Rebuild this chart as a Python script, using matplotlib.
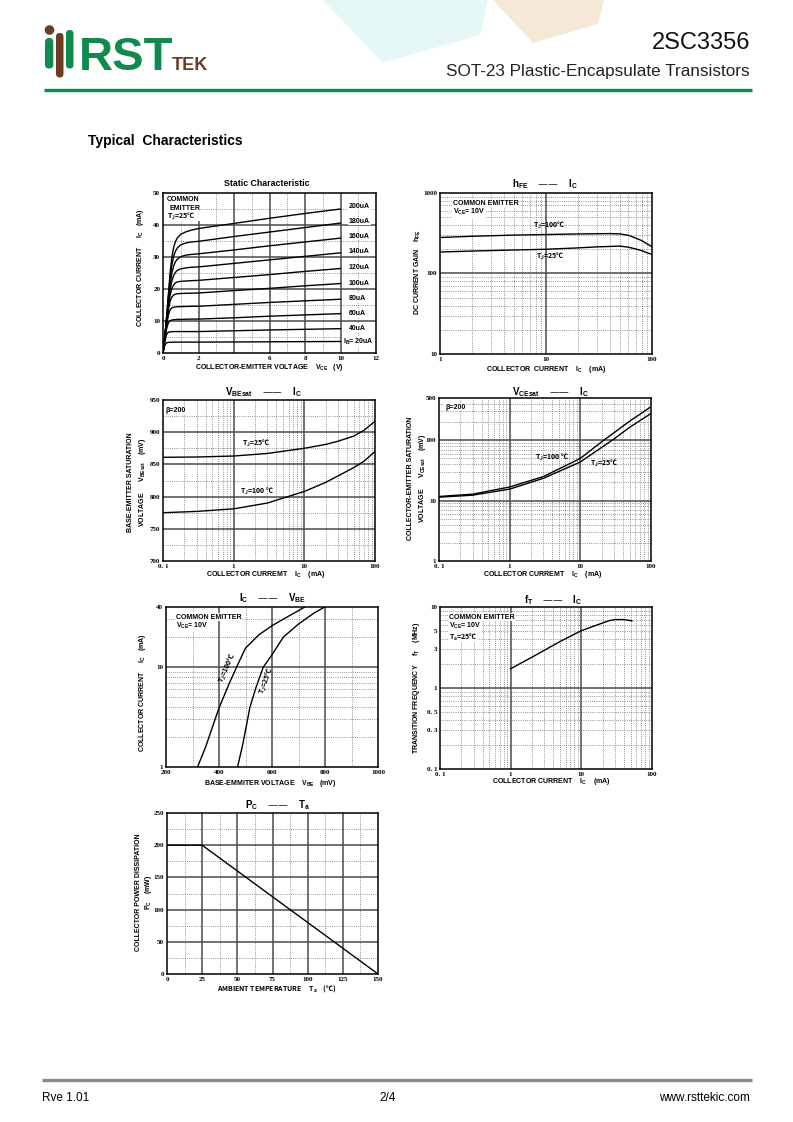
import matplotlib
matplotlib.use("Agg")
import matplotlib.pyplot as plt
from matplotlib.patches import FancyBboxPatch, Circle, Polygon, Rectangle

plt.rcParams['mathtext.default'] = 'regular'

# ---------------- data ----------------
# Static characteristic (Ic vs Vce for several Ib)
vce_pts = [0, 0.1, 0.2, 0.3, 0.4, 0.5, 0.6, 0.7, 0.8, 1.0, 1.3, 1.6, 2.0, 4.0, 6.0, 8.0, 10.0]
ic_200ua = [0, 5, 11, 18, 25, 30, 33, 34.8, 35.9, 37.1, 37.9, 38.4, 38.9, 40.5, 42.1, 43.6, 45.0]
ic_180ua = [0, 5, 11, 17.5, 23.5, 27.5, 30.2, 31.8, 32.8, 33.8, 34.4, 34.7, 34.9, 36.4, 37.8, 39.2, 40.6]
ic_160ua = [0, 5, 10.5, 16.5, 21.5, 25, 27.2, 28.5, 29.3, 30.1, 30.6, 30.8, 31.0, 32.2, 33.5, 34.7, 35.9]
ic_140ua = [0, 4.8, 10, 15.5, 19.8, 22.5, 24.2, 25.2, 25.8, 26.3, 26.6, 26.8, 26.9, 28.0, 29.1, 30.2, 31.3]
ic_120ua = [0, 4.6, 9.6, 14.5, 18, 20.2, 21.3, 21.9, 22.2, 22.4, 22.5, 22.6, 22.7, 23.6, 24.5, 25.5, 26.4]
ic_100ua = [0, 4.4, 9, 13.3, 16.2, 17.5, 18.1, 18.4, 18.5, 18.6, 18.65, 18.7, 18.75, 19.5, 20.2, 21.0, 21.7]
ic_80ua = [0, 4.2, 8.5, 11.8, 13.5, 14.1, 14.3, 14.4, 14.45, 14.5, 14.55, 14.6, 14.6, 15.2, 15.8, 16.3, 16.8]
ic_60ua = [0, 4, 7.5, 9.4, 10.1, 10.3, 10.4, 10.45, 10.5, 10.5, 10.55, 10.6, 10.6, 11.0, 11.5, 11.9, 12.3]
ic_40ua = [0, 3.6, 5.8, 6.5, 6.6, 6.65, 6.7, 6.7, 6.7, 6.7, 6.7, 6.7, 6.7, 6.95, 7.2, 7.4, 7.6]
ic_20ua = [0, 2.4, 3.2, 3.3, 3.35, 3.35, 3.4, 3.4, 3.4, 3.4, 3.4, 3.4, 3.4, 3.45, 3.5, 3.55, 3.6]
ib_labels = ["200uA", "180uA", "160uA", "140uA", "120uA", "100uA", "80uA", "60uA", "40uA", "I$_B$= 20uA"]

# hFE vs Ic
hfe_ic_100 = [1, 2, 5, 10, 20, 40, 50, 60, 70, 80, 100]
hfe_100 = [280, 290, 300, 305, 310, 313, 310, 298, 276, 256, 215]
hfe_ic_25 = [1, 2, 5, 10, 20, 30, 50, 60, 70, 80, 100]
hfe_25 = [185, 190, 196, 200, 208, 214, 219, 212, 202, 192, 172]

# VBEsat vs Ic
vbe_ic_25 = [0.1, 0.3, 1, 3, 10, 20, 30, 50, 70, 100]
vbe_25 = [861, 861.5, 863, 867, 875, 881, 886, 894, 903, 917]
vbe_ic_100 = [0.1, 0.3, 1, 3, 10, 20, 50, 70, 100]
vbe_100 = [775, 777, 781, 790, 808, 822, 845, 855, 870]

# VCEsat vs Ic
vce_ic = [0.1, 0.3, 1, 3, 10, 20, 30, 50, 100]
vce_100 = [11.7, 12.8, 16.8, 25, 50, 94, 133, 207, 358]
vce_25 = [11.4, 12.3, 15.5, 23.4, 43.6, 76, 105, 164, 277]

# Ic vs VBE
ivbe_v_100 = [319, 350, 400, 440, 470, 500, 550, 600, 650, 724]
ivbe_ic_100 = [1, 1.6, 3.9, 7, 10.5, 15.5, 21, 26, 31, 40]
ivbe_v_25 = [470, 490, 517, 540, 567, 600, 643, 700, 760, 799]
ivbe_ic_25 = [1, 1.7, 4, 6.3, 10, 13.3, 20, 27, 35, 40]

# fT vs Ic
ft_ic = [1, 2, 5, 10, 15, 20, 25, 30, 40, 52]
ft_mhz = [1.73, 2.4, 3.75, 5.1, 5.8, 6.35, 6.8, 7.0, 7.0, 6.75]

# Pc vs Ta
pc_ta = [0, 25, 150]
pc_mw = [200, 200, 0]

# ---------------- figure ----------------
W, H = 793, 1122
fig = plt.figure(figsize=(W / 100, H / 100), dpi=100)

SANS = 'Liberation Sans'
SERIF = 'Liberation Serif'
CJK = 'Noto Sans CJK SC'
MAJ = '#4a4a4a'
MIN = '#707070'
GREEN = '#108a4e'
BROWN = '#6b3d24'


def mk_ax(x0, y0, x1, y1):
    ax = fig.add_axes([x0 / W, 1 - y1 / H, (x1 - x0) / W, (y1 - y0) / H])
    for s in ax.spines.values():
        s.set_linewidth(1.1)
        s.set_color('black')
        s.set_zorder(5)
    ax.tick_params(which='both', length=0, pad=2)
    return ax


def style_ticks(ax, xt, xl, yt, yl):
    ax.set_xticks(xt)
    ax.set_xticklabels(xl, fontfamily=SERIF, fontweight='bold', fontsize=5)
    ax.set_yticks(yt)
    ax.set_yticklabels(yl, fontfamily=SERIF, fontweight='bold', fontsize=5)
    ax.minorticks_off()


def vgrid(ax, major, minor):
    for v in minor:
        ax.axvline(v, color=MIN, lw=0.6, ls=(0, (1, 1.6)), zorder=1)
    for v in major:
        ax.axvline(v, color=MAJ, lw=1.1, zorder=2)


def hgrid(ax, major, minor):
    for v in minor:
        ax.axhline(v, color=MIN, lw=0.6, ls=(0, (1, 1.6)), zorder=1)
    for v in major:
        ax.axhline(v, color=MAJ, lw=1.1, zorder=2)


def logminor(lo, hi):
    out = []
    e = 1e-3
    while e < hi * 10:
        for m in range(2, 10):
            v = m * e
            if lo < v < hi:
                out.append(v)
        e *= 10
    return out


LW = 1.0

# ---- Static characteristic ----
ax1 = mk_ax(163, 193, 376, 353)
ax1.set_xlim(0, 12); ax1.set_ylim(0, 50)
vgrid(ax1, [2, 4, 6, 8, 10], [1, 3, 5, 7, 9, 11])
hgrid(ax1, [10, 20, 30, 40], [5, 15, 25, 35, 45])
for curve in [ic_200ua, ic_180ua, ic_160ua, ic_140ua, ic_120ua, ic_100ua,
              ic_80ua, ic_60ua, ic_40ua, ic_20ua]:
    ax1.plot(vce_pts, curve, color='black', lw=LW, zorder=3)
style_ticks(ax1, [0, 2, 4, 6, 8, 10, 12], ['0', '2', '', '6', '8', '10', '12'],
            [0, 10, 20, 30, 40, 50], ['0', '10', '20', '30', '40', '50'])

# ---- hFE ----
ax2 = mk_ax(440, 193, 652, 354)
ax2.set_xscale('log'); ax2.set_yscale('log')
ax2.set_xlim(1, 100); ax2.set_ylim(10, 1000)
vgrid(ax2, [10], logminor(1, 100))
hgrid(ax2, [100], logminor(10, 1000))
ax2.plot(hfe_ic_100, hfe_100, color='black', lw=LW, zorder=3)
ax2.plot(hfe_ic_25, hfe_25, color='black', lw=LW, zorder=3)
style_ticks(ax2, [1, 10, 100], ['1', '10', '100'], [10, 100, 1000], ['10', '100', '1000'])

# ---- VBEsat ----
ax3 = mk_ax(163, 400, 375, 561)
ax3.set_xscale('log')
ax3.set_xlim(0.1, 100); ax3.set_ylim(700, 950)
vgrid(ax3, [1, 10], logminor(0.1, 100))
hgrid(ax3, [750, 800, 850, 900], [725, 775, 825, 875, 925])
ax3.plot(vbe_ic_25, vbe_25, color='black', lw=LW, zorder=3)
ax3.plot(vbe_ic_100, vbe_100, color='black', lw=LW, zorder=3)
style_ticks(ax3, [0.1, 1, 10, 100], ['0. 1', '1', '10', '100'],
            [700, 750, 800, 850, 900, 950], ['700', '750', '800', '850', '900', '950'])

# ---- VCEsat ----
ax4 = mk_ax(439, 398, 651, 561)
ax4.set_xscale('log'); ax4.set_yscale('log')
ax4.set_xlim(0.1, 100); ax4.set_ylim(1, 500)
vgrid(ax4, [1, 10], logminor(0.1, 100))
hgrid(ax4, [10, 100], logminor(1, 500))
ax4.plot(vce_ic, vce_100, color='black', lw=LW, zorder=3)
ax4.plot(vce_ic, vce_25, color='black', lw=LW, zorder=3)
style_ticks(ax4, [0.1, 1, 10, 100], ['0. 1', '1', '10', '100'],
            [1, 10, 100, 500], ['1', '10', '100', '500'])

# ---- Ic vs VBE ----
ax5 = mk_ax(166, 607, 378, 767)
ax5.set_yscale('log')
ax5.set_xlim(200, 1000); ax5.set_ylim(1, 40)
vgrid(ax5, [400, 600, 800], [300, 500, 700, 900])
hgrid(ax5, [10], logminor(1, 40))
ax5.plot(ivbe_v_100, ivbe_ic_100, color='black', lw=LW, zorder=3)
ax5.plot(ivbe_v_25, ivbe_ic_25, color='black', lw=LW, zorder=3)
style_ticks(ax5, [200, 400, 600, 800, 1000], ['200', '400', '600', '800', '1000'],
            [1, 10, 40], ['1', '10', '40'])

# ---- fT ----
ax6 = mk_ax(440, 607, 652, 769)
ax6.set_xscale('log'); ax6.set_yscale('log')
ax6.set_xlim(0.1, 100); ax6.set_ylim(0.1, 10)
vgrid(ax6, [1, 10], logminor(0.1, 100))
hgrid(ax6, [1], logminor(0.1, 10))
ax6.plot(ft_ic, ft_mhz, color='black', lw=LW, zorder=3)
style_ticks(ax6, [0.1, 1, 10, 100], ['0. 1', '1', '10', '100'],
            [0.1, 0.3, 0.5, 1, 3, 5, 10], ['0. 1', '0. 3', '0. 5', '1', '3', '5', '10'])

# ---- Pc vs Ta ----
ax7 = mk_ax(167, 813, 378, 974)
ax7.set_xlim(0, 150); ax7.set_ylim(0, 250)
vgrid(ax7, [25, 50, 75, 100, 125], [12.5, 37.5, 62.5, 87.5, 112.5, 137.5])
hgrid(ax7, [50, 100, 150, 200], [25, 75, 125, 175, 225])
ax7.plot(pc_ta, pc_mw, color='black', lw=LW, zorder=3)
style_ticks(ax7, [0, 25, 50, 75, 100, 125, 150], ['0', '25', '50', '75', '100', '125', '150'],
            [0, 50, 100, 150, 200, 250], ['0', '50', '100', '150', '200', '250'])

# ---------------- overlay (pixel coordinates) ----------------
bg = fig.add_axes([0, 0, 1, 1])
bg.set_xlim(0, W); bg.set_ylim(H, 0)
bg.axis('off')
bg.patch.set_alpha(0)
bg.set_zorder(10)

# header decorations
bg.add_patch(Polygon([(323, 0), (488, 0), (480, 35), (383, 63)], closed=True,
                     fc='#e6f7f7', ec='none'))
bg.add_patch(Polygon([(493, 0), (604, 0), (598, 24), (533, 43)], closed=True,
                     fc='#f6e8d6', ec='none'))

# logo
bg.add_patch(Circle((49.5, 30), 4.8, fc=BROWN, ec='none'))
bg.add_patch(FancyBboxPatch((45, 38), 8.3, 30.5, boxstyle="round,pad=0,rounding_size=4",
                            fc=GREEN, ec='none'))
bg.add_patch(FancyBboxPatch((56, 33), 7.5, 44.5, boxstyle="round,pad=0,rounding_size=3.7",
                            fc=BROWN, ec='none'))
bg.add_patch(FancyBboxPatch((66, 30), 7.5, 38.5, boxstyle="round,pad=0,rounding_size=3.7",
                            fc=GREEN, ec='none'))
bg.text(79, 70, "RST", fontfamily=SANS, fontweight='bold', fontsize=34, color=GREEN,
        va='baseline', ha='left')
bg.text(172, 70, "TEK", fontfamily=SANS, fontweight='bold', fontsize=13, color=BROWN,
        va='baseline', ha='left')

bg.text(750, 49, "2SC3356", fontfamily=SANS, fontsize=17, color='#111111',
        ha='right', va='baseline')
bg.text(750, 76, "SOT-23 Plastic-Encapsulate Transistors", fontfamily=SANS, fontsize=12.3,
        color='#222222', ha='right', va='baseline')
bg.plot([44, 752], [90, 90], color=GREEN, lw=2.4, solid_capstyle='butt')

bg.text(88, 145, "Typical  Characteristics", fontfamily=SANS, fontweight='bold',
        fontsize=10, ha='left', va='baseline')

# footer
bg.plot([42, 752], [1080, 1080], color='#8a8a8a', lw=2.4, solid_capstyle='butt')
bg.text(42, 1101, "Rve 1.01", fontfamily=SANS, fontsize=8.5, ha='left', va='baseline')
bg.text(388, 1101, "2/4", fontfamily=SANS, fontsize=8.5, ha='center', va='baseline')
bg.text(750, 1101, "www.rsttekic.com", fontfamily=SANS, fontsize=8.5, ha='right', va='baseline')

LAB = dict(fontfamily=SANS, fontweight='bold', fontsize=5, color='black')
LABC = dict(fontfamily=CJK, fontweight='bold', fontsize=5, color='black')
WB = dict(fc='white', ec='none', pad=0.6)


def T(x, y, s, cjk=False, **kw):
    base = dict(LABC if cjk else LAB)
    base.update(kw)
    base.setdefault('ha', 'center')
    base.setdefault('va', 'center')
    bg.text(x, y, s, **base)


TITLE = dict(fontfamily=SANS, fontweight='bold', fontsize=7)

# Static characteristic texts
T(266.7, 183.3, "Static Characteristic", fontsize=6.3)
T(269, 367, r"COLLECTOR-EMITTER VOLTAGE    V$_{CE}$   (V)")
T(141, 268, r"COLLECTOR CURRENT     I$_C$   (mA)", rotation=90)
bg.add_patch(Rectangle((164.2, 194.2), 36, 27, fc='white', ec='none', zorder=1))
T(166.7, 199, "COMMON", ha='left')
T(169.3, 208, "EMITTER", ha='left')
T(166.7, 216, r"T$_J$=25℃", cjk=True, ha='left')
ib_label_y = [206, 221, 236, 251, 267, 283, 298, 313, 328, 342]
for lbl, yy in zip(ib_labels, ib_label_y):
    xx = 343 if lbl.startswith("I") else 349
    T(xx, yy, lbl, ha='left', bbox=WB)

# hFE texts
T(545, 184, r"h$_{FE}$    ——    I$_C$", **TITLE)
T(546, 369, r"COLLECTOR  CURRENT    I$_C$    (mA)")
T(418, 272, r"DC CURRENT GAIN    h$_{FE}$", rotation=90)
T(453, 203, "COMMON EMITTER", ha='left', bbox=WB)
T(453, 212, r"V$_{CE}$= 10V", ha='left', bbox=WB)
T(533, 225, r"T$_J$=100℃", cjk=True, ha='left')
T(536, 256, r"T$_J$=25℃", cjk=True, ha='left')

# VBEsat texts
T(263, 391.7, r"V$_{BEsat}$    ——    I$_C$", **TITLE)
T(266, 574, r"COLLECTOR CURREMT    I$_C$    (mA)")
T(130, 482, "BASE-EMITTER SATURATION", rotation=90)
T(143, 482, r"VOLTAGE      V$_{BEsat}$    (mV)", rotation=90)
T(165, 410, "β=200", ha='left', bbox=WB)
T(242, 443, r"T$_J$=25℃", cjk=True, ha='left')
T(240, 491, r"T$_J$=100 ℃", cjk=True, ha='left')

# VCEsat texts
T(550, 391.7, r"V$_{CEsat}$    ——    I$_C$", **TITLE)
T(543, 574, r"COLLECTOR CURREMT    I$_C$    (mA)")
T(411, 478, "COLLECTOR-EMITTER SATURATION", rotation=90)
T(422, 478, r"VOLTAGE      V$_{CEsat}$    (mV)", rotation=90)
T(445, 407, "β=200", ha='left', bbox=WB)
T(535, 457, r"T$_J$=100 ℃", cjk=True, ha='left')
T(590, 463, r"T$_J$=25℃", cjk=True, ha='left')

# Ic vs VBE texts
T(273, 598, r"I$_C$    ——    V$_{BE}$", **TITLE)
T(270, 783, r"BASE-EMMITER VOLTAGE    V$_{BE}$   (mV)")
T(143, 693, r"COLLECTOR CURRENT     I$_C$   (mA)", rotation=90)
T(176, 617, "COMMON EMITTER", ha='left', bbox=WB)
T(176, 626, r"V$_{CE}$= 10V", ha='left', bbox=WB)
T(228, 668, r"T$_J$=100℃", cjk=True, rotation=66)
T(267, 681, r"T$_J$=25℃", cjk=True, rotation=70)

# fT texts
T(553, 599.7, r"f$_T$    ——    I$_C$", **TITLE)
T(551, 781, r"COLLECTOR CURRENT    I$_C$    (mA)")
T(416, 688, r"TRANSITION FREQUENCY     f$_T$    (MHz)", rotation=90)
T(449, 617, "COMMON EMITTER", ha='left', bbox=WB)
T(449, 626, r"V$_{CE}$= 10V", ha='left', bbox=WB)
T(449, 637, r"T$_a$=25℃", cjk=True, ha='left', bbox=WB)

# Pc vs Ta texts
T(277, 805, r"P$_C$    ——    T$_a$", **TITLE)
T(277, 989, r"AMBIENT TEMPERATURE     T$_a$    (℃)", cjk=True)
T(138, 892, "COLLECTOR POWER DISSIPATION", rotation=90)
T(149, 892, r"P$_C$    (mW)", rotation=90)

fig.savefig("out.png", dpi=100)
